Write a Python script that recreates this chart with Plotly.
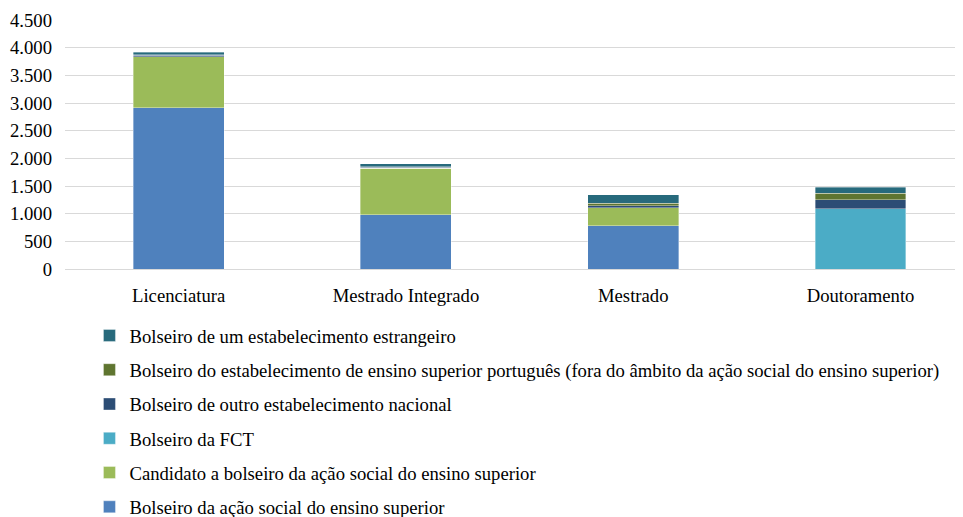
import plotly.graph_objects as go

categories = ["Licenciatura", "Mestrado Integrado", "Mestrado", "Doutoramento"]

series_names = [
    "Bolseiro da ação social do ensino superior",
    "Candidato a bolseiro da ação social do ensino superior",
    "Bolseiro da FCT",
    "Bolseiro de outro estabelecimento nacional",
    "Bolseiro do estabelecimento de ensino superior português (fora do âmbito da ação social do ensino superior)",
    "Bolseiro de um estabelecimento estrangeiro",
]

acao_social = [2917, 976, 783, 0]
candidato = [922, 845, 326, 0]
fct = [0, 0, 0, 1091]
outro_nacional = [25, 20, 30, 157]
ensino_pt = [10, 5, 45, 120]
estrangeiro = [44, 58, 154, 110]

series_values = [acao_social, candidato, fct, outro_nacional, ensino_pt, estrangeiro]
colors = ["#4F81BD", "#9BBB59", "#4BACC6", "#2C4D75", "#5F7530", "#276A7C"]

y_ticks = [0, 500, 1000, 1500, 2000, 2500, 3000, 3500, 4000, 4500]

FONT = "Liberation Serif, Times New Roman, serif"
FS = 18.67

fig = go.Figure()
n = len(series_names)
for i, (name, vals, col) in enumerate(zip(series_names, series_values, colors)):
    fig.add_trace(go.Bar(
        x=categories, y=vals, name=name,
        marker=dict(color=col, line=dict(color="rgba(255,255,255,0.6)", width=0.6)),
        legendgroup=f"g{i}",
        legendrank=100 * (n - i),
    ))

fig.update_layout(
    barmode="stack",
    bargap=0.6,
    width=963, height=517,
    margin=dict(l=57, r=0, t=12, b=256, autoexpand=False),
    plot_bgcolor="white", paper_bgcolor="white",
    separators=",.",
    font=dict(family=FONT, size=FS, color="#000000"),
    legend=dict(
        orientation="v", traceorder="grouped",
        x=0.027, xanchor="left", y=-0.192, yanchor="top",
        tracegroupgap=7,
        font=dict(family=FONT, size=FS, color="#000000"),
        itemwidth=30,
    ),
    showlegend=True,
)
fig.update_yaxes(
    range=[0, 4500], tickvals=y_ticks, tickformat=",d",
    showgrid=True, gridcolor="#D9D9D9", gridwidth=1,
    zeroline=False, showline=False, ticks="", ticklen=0,
    tickfont=dict(family=FONT, size=FS), ticklabelstandoff=12,
)
fig.update_xaxes(range=[-0.5, 3.486], showgrid=False, showline=True, linecolor="#D9D9D9", ticks="",
                 tickfont=dict(family=FONT, size=FS), ticklabelstandoff=10)

fig.write_html("out.html")
